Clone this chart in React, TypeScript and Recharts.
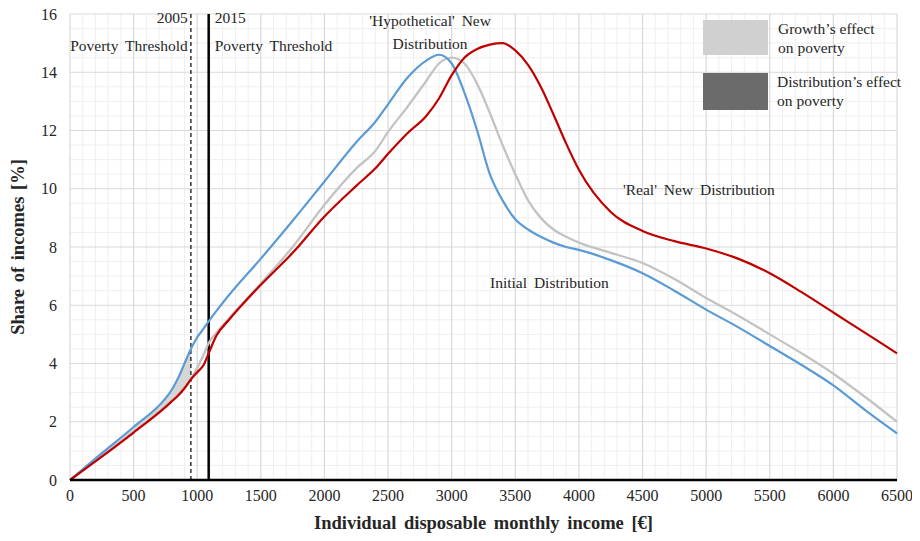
import React from "react";
import {
  ComposedChart,
  Line,
  Area,
  XAxis,
  YAxis,
  CartesianGrid,
  ReferenceLine,
  ReferenceDot,
} from "recharts";

// ---- data ----
const incomes = [
  0, 250, 500, 750, 800, 850, 900, 950, 1000, 1050, 1090, 1150, 1250, 1500, 1750, 2000, 2250, 2400, 2500,
  2650, 2800, 2900, 3000, 3100, 3200, 3300, 3400, 3500, 3600, 3700, 3800, 3900, 4000, 4250, 4500,
  4750, 5000, 5250, 5500, 5750, 6000, 6250, 6500,
];
// Initial distribution (blue)
const initialShare = [
  0, 0.92, 1.82, 2.8, 3.1, 3.5, 4.0, 4.5, 4.9, 5.2, 5.45, 5.8, 6.35, 7.6, 8.9, 10.25, 11.6, 12.3, 12.9,
  13.8, 14.4, 14.6, 14.3, 13.3, 12.0, 10.5, 9.6, 8.95, 8.6, 8.35, 8.15, 8.0, 7.9, 7.55, 7.1,
  6.5, 5.85, 5.25, 4.6, 3.95, 3.25, 2.4, 1.6,
];
// 'Hypothetical' new distribution (grey)
const hypotheticalShare = [
  0, 0.82, 1.65, 2.52, 2.72, 2.92, 3.17, 3.47, 3.85, 4.3, 4.7, 5.05, 5.55, 6.75, 8.0, 9.45, 10.7, 11.3, 11.95,
  12.8, 13.7, 14.3, 14.5, 14.3, 13.6, 12.6, 11.5, 10.5, 9.6, 9.0, 8.6, 8.35, 8.15, 7.8, 7.45,
  6.9, 6.25, 5.65, 5.0, 4.35, 3.65, 2.85, 2.0,
];
// 'Real' new distribution (red)
const realShare = [
  0, 0.8, 1.63, 2.5, 2.7, 2.9, 3.15, 3.45, 3.7, 3.95, 4.35, 4.95, 5.5, 6.7, 7.8, 9.05, 10.1, 10.7, 11.2,
  11.9, 12.5, 13.1, 13.9, 14.5, 14.8, 14.95, 15.0, 14.75, 14.25, 13.5, 12.55, 11.55, 10.65, 9.2, 8.55,
  8.2, 7.95, 7.6, 7.1, 6.45, 5.75, 5.05, 4.35,
];
const xTicks = [0, 500, 1000, 1500, 2000, 2500, 3000, 3500, 4000, 4500, 5000, 5500, 6000, 6500];
const yTicks = [0, 2, 4, 6, 8, 10, 12, 14, 16];
const threshold2005 = 950;
const threshold2015 = 1090;
const X_MAX = 6500;
const Y_MAX = 16;

const minorX: number[] = [];
for (let v = 100; v < X_MAX; v += 100) if (v % 500 !== 0) minorX.push(v);
const minorY: number[] = [];
for (let v = 0.5; v < Y_MAX; v += 0.5) if (v % 2 !== 0) minorY.push(v);

const data = incomes.map((income, i) => ({
  income,
  initial: initialShare[i],
  hypothetical: hypotheticalShare[i],
  real: realShare[i],
  shade: income <= threshold2005 ? [realShare[i], initialShare[i]] : undefined,
}));

const FONT = "'Liberation Serif', 'DejaVu Serif', 'Noto Serif', 'Times New Roman', Times, serif";
const TXT = "#262626";

const textStyle: React.CSSProperties = { fontFamily: FONT, fontSize: 15.5, fill: TXT, wordSpacing: 3 };

const ThresholdLabel = (props: any) => {
  const { viewBox, year, side } = props;
  if (!viewBox) return null;
  const x = side === "left" ? viewBox.x - 3 : viewBox.x + 6;
  const anchor = side === "left" ? "end" : "start";
  return (
    <text textAnchor={anchor} style={textStyle}>
      <tspan x={x} y={viewBox.y + 9}>{year}</tspan>
      <tspan x={x} y={viewBox.y + 37}>Poverty  Threshold</tspan>
    </text>
  );
};

const makeTextShape = (lines: string[], anchor: "start" | "middle" | "end") => (p: any) => (
  <text textAnchor={anchor} style={textStyle}>
    {lines.map((l, i) => (
      <tspan key={i} x={p.cx} y={p.cy + i * 23}>
        {l}
      </tspan>
    ))}
  </text>
);

const YLabel = (props: any) => {
  const vb = props.viewBox || { x: 0, y: 14, width: 62, height: 466 };
  const cx = 10;
  const cy = (vb.y ?? 14) + (vb.height ?? 466) / 2;
  return (
    <text
      transform={`translate(${cx},${cy}) rotate(-90)`}
      textAnchor="middle"
      dominantBaseline="central"
      style={{ fontFamily: FONT, fontSize: 18.5, fontWeight: 700, fill: TXT, wordSpacing: 2 }}
    >
      Share of incomes [%]
    </text>
  );
};

const XLabel = (props: any) => {
  const vb = props.viewBox || { x: 62, y: 480, width: 827, height: 53 };
  return (
    <text
      x={vb.x + vb.width / 2}
      y={vb.y + 49}
      textAnchor="middle"
      style={{ fontFamily: FONT, fontSize: 18.5, fontWeight: 700, fill: TXT, wordSpacing: 3 }}
    >
      Individual  disposable  monthly  income [€]
    </text>
  );
};

const legendText: React.CSSProperties = {
  position: "absolute",
  fontFamily: FONT,
  fontSize: 15.5,
  color: TXT,
  lineHeight: "19px",
  whiteSpace: "nowrap",
};

const minorVertical = (props: any) => {
  const off = props.offset;
  return minorX.map((v) => off.left + (v / X_MAX) * off.width);
};
const minorHorizontal = (props: any) => {
  const off = props.offset;
  return minorY.map((v) => off.top + off.height - (v / Y_MAX) * off.height);
};

export default function App() {
  return (
    <div style={{ position: "relative", width: 904, height: 533, marginTop: -8 }}>
      <ComposedChart
        width={904}
        height={533}
        data={data}
        margin={{ top: 14, right: 15, bottom: 0, left: 0 }}
      >
        <CartesianGrid
          stroke="#efefef"
          strokeWidth={1}
          verticalCoordinatesGenerator={minorVertical}
          horizontalCoordinatesGenerator={minorHorizontal}
        />
        <CartesianGrid stroke="#d9d9d9" strokeWidth={1.2} />
        <XAxis
          type="number"
          dataKey="income"
          domain={[0, X_MAX]}
          ticks={xTicks}
          interval={0}
          height={53}
          tickLine={false}
          tickMargin={4}
          axisLine={{ stroke: "#000", strokeWidth: 2.5 }}
          tick={{ fontFamily: FONT, fontSize: 16, fill: TXT }}
          label={<XLabel />}
        />
        <YAxis
          type="number"
          domain={[0, Y_MAX]}
          ticks={yTicks}
          interval={0}
          width={62}
          tickLine={false}
          axisLine={false}
          tickMargin={7}
          tick={{ fontFamily: FONT, fontSize: 16, fill: TXT }}
          label={<YLabel />}
        />
        <Area
          type="monotone"
          dataKey="shade"
          stroke="none"
          fill="#d6d6d6"
          fillOpacity={1}
          isAnimationActive={false}
          connectNulls={false}
          activeDot={false}
        />
        <ReferenceLine
          x={threshold2005}
          stroke="#333"
          strokeWidth={1.5}
          strokeDasharray="4 3"
          label={<ThresholdLabel year="2005" side="left" />}
        />
        <ReferenceLine
          x={threshold2015}
          stroke="#000"
          strokeWidth={2.5}
          label={<ThresholdLabel year="2015" side="right" />}
        />
        <Line
          type="monotone"
          dataKey="hypothetical"
          stroke="#c3c3c3"
          strokeWidth={2.3}
          dot={false}
          isAnimationActive={false}
        />
        <Line
          type="monotone"
          dataKey="initial"
          stroke="#5b9bd5"
          strokeWidth={2.2}
          dot={false}
          isAnimationActive={false}
        />
        <Line
          type="monotone"
          dataKey="real"
          stroke="#c00000"
          strokeWidth={2.2}
          dot={false}
          isAnimationActive={false}
        />
        <ReferenceDot
          x={2830}
          y={15.59}
          r={0}
          shape={makeTextShape(["'Hypothetical'  New", "Distribution"], "middle")}
        />
        <ReferenceDot
          x={4346}
          y={9.79}
          r={0}
          shape={makeTextShape(["'Real'  New Distribution"], "start")}
        />
        <ReferenceDot
          x={3301}
          y={6.59}
          r={0}
          shape={makeTextShape(["Initial  Distribution"], "start")}
        />
      </ComposedChart>
      {/* legend */}
      <div style={{ position: "absolute", left: 695, top: 20, width: 65, height: 35, background: "#d0d0d0" }} />
      <div style={{ ...legendText, left: 770, top: 19 }}>
        Growth’s effect
        <br />
        on poverty
      </div>
      <div style={{ position: "absolute", left: 695, top: 73, width: 65, height: 37, background: "#6b6b6b" }} />
      <div style={{ ...legendText, left: 769, top: 72 }}>
        Distribution’s effect
        <br />
        on poverty
      </div>
    </div>
  );
}
